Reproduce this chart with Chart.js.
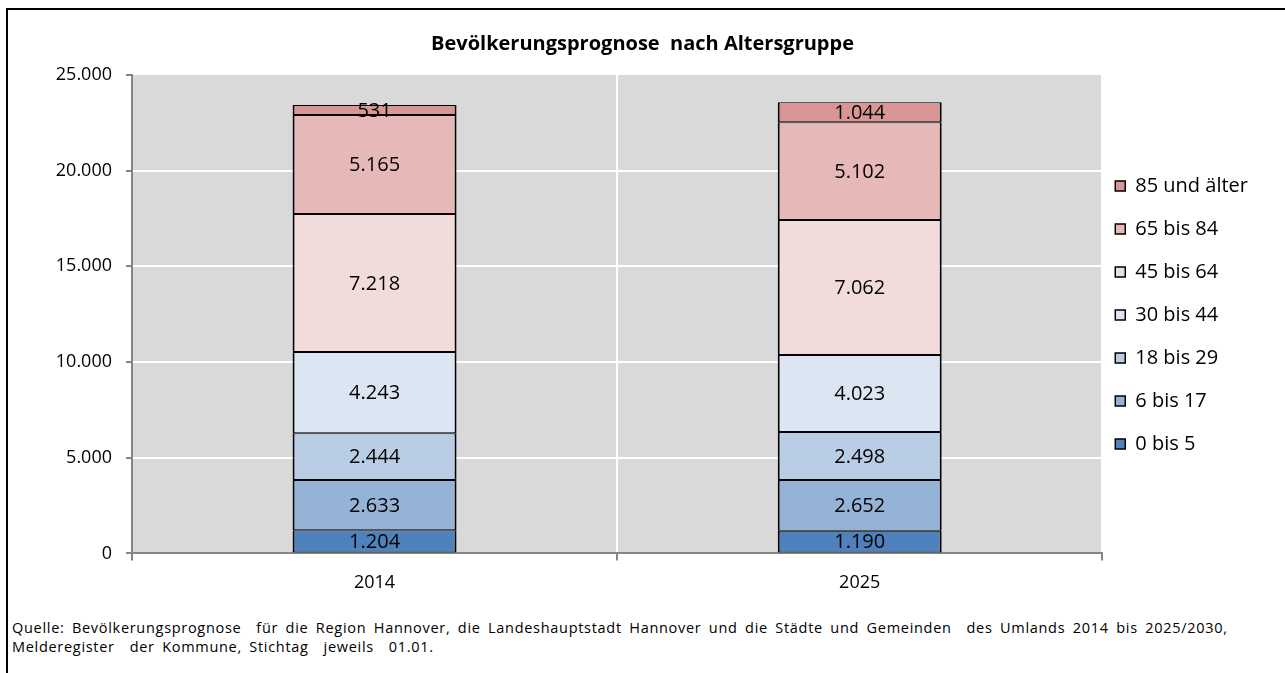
<!DOCTYPE html>
<html>
<head>
<meta charset="utf-8">
<script src="https://cdn.jsdelivr.net/npm/chart.js@4/dist/chart.umd.min.js"></script>
<style>
    html, body { margin: 0; padding: 0; background: #fff; overflow: hidden; }
    body { width: 1285px; height: 673px; position: relative; }
    #rahmen { position: absolute; left: 6px; top: 8px; width: 1400px; height: 800px; border: 2px solid #000; }
    #grafico-container { position: absolute; left: 0; top: 0; width: 1285px; height: 615px; }
    #quelle { position: absolute; left: 12px; top: 618px; font-family: 'Open Sans', sans-serif; font-size: 14.5px; line-height: 19px; letter-spacing: 0.7px; word-spacing: 3px; color: #000; white-space: pre; }
</style>
</head>
<body>
<div id="rahmen"></div>
<div id="grafico-container"><canvas id="grafico"></canvas></div>
<div id="quelle">Quelle: Bevölkerungsprognose  für die Region Hannover, die Landeshauptstadt Hannover und die Städte und Gemeinden  des Umlands 2014 bis 2025/2030,
Melderegister  der Kommune, Stichtag  jeweils  01.01.</div>
<script>
var jahre = ['2014', '2025'];
var gruppen = ['0 bis 5', '6 bis 17', '18 bis 29', '30 bis 44', '45 bis 64', '65 bis 84', '85 und älter'];
var werte0bis5 = [1204, 1190];
var werte6bis17 = [2633, 2652];
var werte18bis29 = [2444, 2498];
var werte30bis44 = [4243, 4023];
var werte45bis64 = [7218, 7062];
var werte65bis84 = [5165, 5102];
var werte85 = [531, 1044];
var farben = ['#4F81BD', '#95B3D7', '#B9CDE5', '#DCE6F2', '#F2DCDB', '#E6B9B8', '#D99694'];
var yTicks = [0, 5000, 10000, 15000, 20000, 25000];

function formatiere(v) {
    return String(v).replace(/\B(?=(\d{3})+(?!\d))/g, '.');
}

Chart.defaults.font.family = "'Open Sans', sans-serif";
Chart.defaults.color = '#000';

var alleWerte = [werte0bis5, werte6bis17, werte18bis29, werte30bis44, werte45bis64, werte65bis84, werte85];
var datasets = gruppen.map(function (g, i) {
    return {
        label: g,
        data: alleWerte[i],
        backgroundColor: farben[i],
        borderColor: '#000',
        borderWidth: { top: 1, bottom: 1, left: 2, right: 2 },
        borderSkipped: false,
        barPercentage: 0.338,
        categoryPercentage: 1
    };
});

// grauer Hintergrund der Zeichenfläche
var hintergrund = {
    id: 'hintergrund',
    beforeDraw: function (chart) {
        var a = chart.chartArea;
        var ctx = chart.ctx;
        ctx.save();
        ctx.fillStyle = '#D9D9D9';
        ctx.fillRect(a.left, a.top, a.right - a.left, a.bottom - a.top);
        ctx.restore();
    }
};

// Legende und Titel nachjustieren
var nachjustieren = {
    id: 'nachjustieren',
    afterLayout: function (chart) {
        chart.legend.left -= 10;
        chart.legend.right -= 10;
        chart.legend.top += 12;
        chart.legend.bottom += 12;
        chart.titleBlock.left = 0;
        chart.titleBlock.right = chart.width;
    }
};

// Werte in die Balken schreiben
var werteBeschriftung = {
    id: 'werteBeschriftung',
    afterDatasetsDraw: function (chart) {
        var ctx = chart.ctx;
        ctx.save();
        ctx.font = "20px 'Open Sans', sans-serif";
        ctx.fillStyle = '#000';
        ctx.textAlign = 'center';
        ctx.textBaseline = 'middle';
        chart.data.datasets.forEach(function (ds, i) {
            var meta = chart.getDatasetMeta(i);
            meta.data.forEach(function (bar, j) {
                ctx.fillText(formatiere(ds.data[j]), bar.x, (bar.y + bar.base) / 2 + 1);
            });
        });
        ctx.restore();
    }
};

var ctx = document.getElementById('grafico').getContext('2d');
var myChart = new Chart(ctx, {
    type: 'bar',
    data: { labels: jahre, datasets: datasets },
    plugins: [hintergrund, nachjustieren, werteBeschriftung],
    options: {
        responsive: true,
        maintainAspectRatio: false,
        animation: false,
        layout: { padding: { left: 52, right: 17, top: 0, bottom: 9 } },
        scales: {
            x: {
                stacked: true,
                grid: {
                    offset: true,
                    color: '#FFFFFF',
                    lineWidth: 2,
                    tickColor: '#868686',
                    tickLength: 7
                },
                border: { color: '#868686', width: 2 },
                ticks: { font: { size: 18 }, padding: 12, color: '#000' }
            },
            y: {
                stacked: true,
                min: 0,
                max: 25000,
                afterBuildTicks: function (scale) {
                    scale.ticks = yTicks.map(function (v) { return { value: v }; });
                },
                afterFit: function (scale) { scale.width = 80; },
                grid: {
                    color: function (c) {
                        return (c.tick && (c.tick.value === 0 || c.tick.value === 25000)) ? 'rgba(0,0,0,0)' : '#FFFFFF';
                    },
                    lineWidth: 2,
                    tickColor: '#868686',
                    tickLength: 6
                },
                border: { color: '#868686', width: 2 },
                ticks: {
                    font: { size: 18 },
                    padding: 14,
                    color: '#000',
                    callback: function (value) { return formatiere(value); }
                }
            }
        },
        plugins: {
            title: {
                display: true,
                text: 'Bevölkerungsprognose  nach Altersgruppe',
                font: { size: 20, weight: 'bold' },
                color: '#000',
                padding: { top: 32, bottom: 19 }
            },
            legend: {
                position: 'right',
                reverse: true,
                labels: {
                    boxWidth: 10,
                    boxHeight: 10,
                    padding: 23,
                    font: { size: 20 },
                    color: '#000'
                }
            },
            tooltip: { enabled: false }
        }
    }
});
</script>
</body>
</html>
